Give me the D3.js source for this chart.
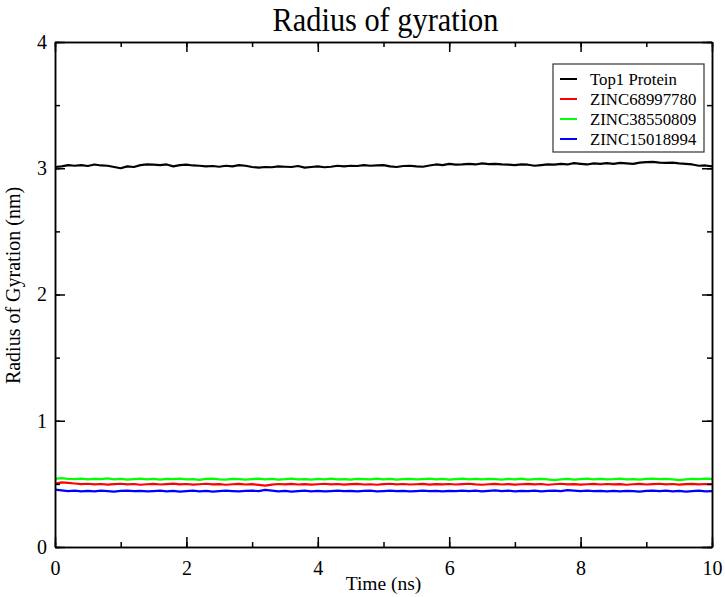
<!DOCTYPE html>
<html><head><meta charset="utf-8">
<script src="https://cdn.jsdelivr.net/npm/d3@7"></script>
<style>body{margin:0;background:#fff}text{font-family:"Liberation Serif","Times New Roman",serif}</style>
</head><body>
<svg id="c" width="725" height="597"></svg>
<script>
const title = "Radius of gyration";
const xLabel = "Time (ns)";
const yLabel = "Radius of Gyration (nm)";
const xTicks = [0,2,4,6,8,10];
const yTicks = [0,1,2,3,4];
const seriesNames = ["Top1 Protein","ZINC68997780","ZINC38550809","ZINC15018994"];
const seriesColors = ["#000000","#ff0000","#00ff00","#0000ff"];
const time = [0,0.1,0.2,0.3,0.4,0.5,0.6,0.7,0.8,0.9,1,1.1,1.2,1.3,1.4,1.5,1.6,1.7,1.8,1.9,2,2.1,2.2,2.3,2.4,2.5,2.6,2.7,2.8,2.9,3,3.1,3.2,3.3,3.4,3.5,3.6,3.7,3.8,3.9,4,4.1,4.2,4.3,4.4,4.5,4.6,4.7,4.8,4.9,5,5.1,5.2,5.3,5.4,5.5,5.6,5.7,5.8,5.9,6,6.1,6.2,6.3,6.4,6.5,6.6,6.7,6.8,6.9,7,7.1,7.2,7.3,7.4,7.5,7.6,7.7,7.8,7.9,8,8.1,8.2,8.3,8.4,8.5,8.6,8.7,8.8,8.9,9,9.1,9.2,9.3,9.4,9.5,9.6,9.7,9.8,9.9,10];
const top1 = [3.010,3.015,3.025,3.020,3.025,3.018,3.030,3.022,3.020,3.010,
3.000,3.015,3.010,3.025,3.030,3.028,3.025,3.030,3.015,3.025,
3.028,3.022,3.020,3.015,3.018,3.012,3.020,3.015,3.025,3.020,
3.010,3.005,3.010,3.008,3.015,3.012,3.010,3.018,3.005,3.010,
3.015,3.008,3.012,3.020,3.015,3.020,3.018,3.025,3.020,3.022,
3.025,3.015,3.010,3.018,3.020,3.015,3.012,3.022,3.030,3.025,
3.035,3.028,3.030,3.035,3.030,3.038,3.032,3.035,3.030,3.028,
3.025,3.030,3.028,3.020,3.025,3.030,3.028,3.035,3.030,3.040,
3.035,3.030,3.038,3.035,3.040,3.035,3.042,3.038,3.035,3.045,
3.048,3.050,3.045,3.042,3.045,3.038,3.035,3.030,3.020,3.022,
3.015];
const zinc68997780 = [0.500,0.512,0.508,0.503,0.498,0.501,0.496,0.499,0.494,0.498,
0.501,0.496,0.499,0.493,0.497,0.500,0.495,0.498,0.502,0.496,
0.499,0.494,0.497,0.501,0.496,0.498,0.493,0.497,0.500,0.495,
0.498,0.492,0.486,0.494,0.499,0.496,0.500,0.495,0.498,0.494,
0.497,0.501,0.496,0.499,0.494,0.498,0.500,0.495,0.497,0.493,
0.498,0.501,0.496,0.499,0.495,0.497,0.500,0.494,0.498,0.496,
0.499,0.495,0.498,0.501,0.496,0.493,0.497,0.500,0.495,0.498,
0.494,0.497,0.500,0.496,0.499,0.493,0.497,0.501,0.496,0.498,
0.494,0.497,0.500,0.495,0.499,0.496,0.498,0.493,0.497,0.500,
0.495,0.498,0.501,0.496,0.499,0.494,0.498,0.500,0.496,0.499,
0.497];
const zinc38550809 = [0.540,0.545,0.540,0.538,0.542,0.535,0.540,0.538,0.543,0.536,
0.540,0.534,0.538,0.542,0.536,0.539,0.533,0.540,0.537,0.541,
0.535,0.538,0.532,0.539,0.541,0.536,0.534,0.540,0.537,0.533,
0.538,0.541,0.535,0.539,0.534,0.537,0.542,0.536,0.538,0.533,
0.539,0.536,0.541,0.535,0.538,0.534,0.540,0.537,0.535,0.541,
0.536,0.539,0.533,0.538,0.540,0.535,0.538,0.542,0.536,0.539,
0.534,0.538,0.541,0.536,0.539,0.535,0.540,0.537,0.533,0.539,
0.536,0.541,0.534,0.538,0.540,0.535,0.530,0.536,0.539,0.534,
0.538,0.541,0.536,0.539,0.535,0.537,0.541,0.536,0.538,0.534,
0.539,0.542,0.537,0.540,0.535,0.529,0.536,0.540,0.538,0.541,
0.539];
const zinc15018994 = [0.455,0.448,0.442,0.446,0.440,0.444,0.441,0.446,0.443,0.439,
0.444,0.447,0.442,0.445,0.440,0.443,0.446,0.441,0.444,0.438,
0.443,0.446,0.441,0.444,0.439,0.442,0.446,0.443,0.440,0.444,
0.447,0.442,0.452,0.446,0.441,0.444,0.439,0.443,0.446,0.441,
0.444,0.440,0.443,0.447,0.442,0.445,0.440,0.444,0.446,0.441,
0.443,0.446,0.442,0.445,0.440,0.443,0.447,0.442,0.444,0.440,
0.445,0.443,0.447,0.442,0.446,0.441,0.444,0.448,0.443,0.446,
0.441,0.445,0.443,0.446,0.440,0.444,0.447,0.442,0.451,0.447,
0.443,0.446,0.442,0.445,0.440,0.444,0.441,0.445,0.442,0.439,
0.444,0.447,0.442,0.446,0.441,0.444,0.439,0.443,0.446,0.441,
0.443];
const seriesValues = [top1, zinc68997780, zinc38550809, zinc15018994];

const svg = d3.select("#c");
const m = {l:55, t:42, r:13, b:50};
const W = 725 - m.l - m.r, H = 597 - m.t - m.b;
const x = d3.scaleLinear().domain([0,10]).range([m.l, m.l+W]);
const y = d3.scaleLinear().domain([0,4]).range([m.t+H, m.t]);
const minorX = d3.range(0,11,1), minorY = d3.range(0,4.01,0.5);

// lines
const line = d3.line().x((d,i)=>x(time[i])).y(d=>y(d));
seriesValues.forEach((vals,k)=>{
  svg.append("path").datum(vals).attr("d", line)
    .attr("fill","none").attr("stroke", seriesColors[k]).attr("stroke-width", 2.2).attr("stroke-linejoin","round");
});

// axes with inward ticks
function styleAxis(g){ g.select(".domain").attr("stroke","#000").attr("stroke-width",1.5); g.selectAll(".tick line").attr("stroke","#000").attr("stroke-width",1.5); }
const fs = "20px";
// bottom
svg.append("g").attr("transform",`translate(0,${m.t+H})`).call(d3.axisBottom(x).tickValues(minorX).tickSize(-5).tickSizeOuter(0).tickFormat(""))
  .call(styleAxis);
svg.append("g").attr("transform",`translate(0,${m.t+H})`).call(d3.axisBottom(x).tickValues(xTicks).tickSize(-10).tickSizeOuter(0).tickPadding(14).tickFormat(d3.format("d")))
  .call(styleAxis).call(g=>g.selectAll("text").attr("font-size",fs).attr("font-family","Liberation Serif").attr("fill","#000"));
// top
svg.append("g").attr("transform",`translate(0,${m.t})`).call(d3.axisTop(x).tickValues(minorX).tickSize(-5).tickSizeOuter(0).tickFormat("")).call(styleAxis);
svg.append("g").attr("transform",`translate(0,${m.t})`).call(d3.axisTop(x).tickValues(xTicks).tickSize(-10).tickSizeOuter(0).tickFormat("")).call(styleAxis);
// left
svg.append("g").attr("transform",`translate(${m.l},0)`).call(d3.axisLeft(y).tickValues(minorY).tickSize(-5).tickSizeOuter(0).tickFormat("")).call(styleAxis);
svg.append("g").attr("transform",`translate(${m.l},0)`).call(d3.axisLeft(y).tickValues(yTicks).tickSize(-10).tickSizeOuter(0).tickPadding(8).tickFormat(d3.format("d")))
  .call(styleAxis).call(g=>g.selectAll("text").attr("font-size",fs).attr("font-family","Liberation Serif").attr("fill","#000"));
// right
svg.append("g").attr("transform",`translate(${m.l+W},0)`).call(d3.axisRight(y).tickValues(minorY).tickSize(-5).tickSizeOuter(0).tickFormat("")).call(styleAxis);
svg.append("g").attr("transform",`translate(${m.l+W},0)`).call(d3.axisRight(y).tickValues(yTicks).tickSize(-10).tickSizeOuter(0).tickFormat("")).call(styleAxis);

// title and labels
svg.append("text").attr("transform",`translate(${m.l+W/2+2},31) scale(0.92,1)`).attr("text-anchor","middle").attr("font-size","33px").text(title);
svg.append("text").attr("x", m.l+W/2).attr("y", 590).attr("text-anchor","middle").attr("font-size","19.5px").text(xLabel);
svg.append("text").attr("transform",`translate(20,${m.t+H/2-9}) rotate(-90)`).attr("text-anchor","middle").attr("font-size","20px").text(yLabel);

// legend
const lg = svg.append("g");
lg.append("rect").attr("x",553).attr("y",64).attr("width",151).attr("height",88).attr("fill","#fff").attr("stroke","#333").attr("stroke-width",1.2);
seriesNames.forEach((n,k)=>{
  const yy = 79 + k*20;
  lg.append("line").attr("x1",560).attr("x2",577).attr("y1",yy).attr("y2",yy).attr("stroke",seriesColors[k]).attr("stroke-width",2);
  lg.append("text").attr("x",590).attr("y",yy).attr("dy","0.35em").attr("font-size","16.8px").text(n);
});
</script>
</body></html>
